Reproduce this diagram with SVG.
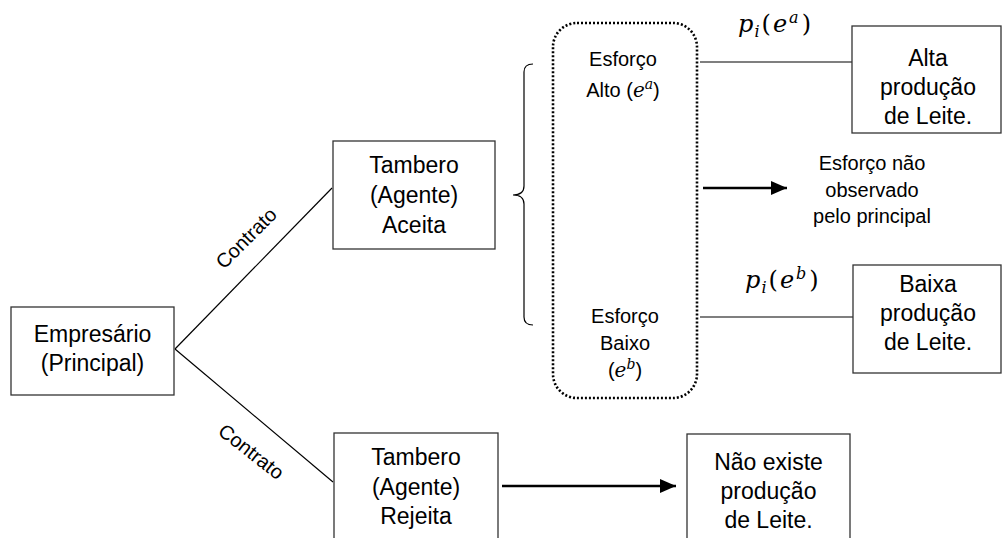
<svg xmlns="http://www.w3.org/2000/svg" width="1004" height="538" viewBox="0 0 1004 538">
<defs>
<style>
.box{fill:#fff;stroke:#333;stroke-width:1.3}
.t{font-family:"Liberation Sans",Arial,sans-serif;font-size:23px;fill:#000;text-anchor:middle}
.s{font-family:"Liberation Sans",Arial,sans-serif;font-size:20px;fill:#000;text-anchor:middle}
.m{font-family:"DejaVu Serif","Liberation Serif",serif;font-size:24px;fill:#000}
.it{font-style:italic}
.ln{stroke:#000;stroke-width:1.2;fill:none}
.ar{stroke:#000;stroke-width:2.6;fill:none}
</style>
<marker id="ah" viewBox="0 0 16 14" refX="16" refY="7" markerWidth="16" markerHeight="14" markerUnits="userSpaceOnUse" orient="auto">
<path d="M0,0 L16,7 L0,14 Z" fill="#000"/>
</marker>
</defs>
<rect width="1004" height="538" fill="#fff"/>
<g id="connectors">
<line class="ln" x1="175" y1="349" x2="332" y2="188"/>
<line class="ln" x1="175" y1="349" x2="333" y2="482"/>
<text class="s" transform="translate(251,243) rotate(-45)">Contrato</text>
<text class="s" transform="translate(247,457) rotate(38)">Contrato</text>
<path class="ln" d="M533,64 Q524,64 524,72 L524,186 Q524,195 513,195 Q524,195 524,204 L524,317 Q524,325 533,325"/>
<line class="ln" x1="700" y1="62" x2="852" y2="62"/>
<line class="ln" x1="700" y1="317" x2="853" y2="317"/>
<line class="ar" x1="703" y1="188" x2="787" y2="188" marker-end="url(#ah)"/>
<line class="ar" x1="502" y1="486" x2="676" y2="486" marker-end="url(#ah)"/>
<text class="m" x="738" y="32"><tspan class="it">p</tspan><tspan class="it" font-size="16" dx="1" dy="5">i</tspan><tspan dx="2" dy="-5">(</tspan><tspan class="it" dx="2">e</tspan><tspan class="it" font-size="16" dx="2" dy="-9">a</tspan><tspan dx="3" dy="9">)</tspan></text>
<text class="m" x="745" y="288"><tspan class="it">p</tspan><tspan class="it" font-size="16" dx="1" dy="5">i</tspan><tspan dx="2" dy="-5">(</tspan><tspan class="it" dx="2">e</tspan><tspan class="it" font-size="16" dx="2" dy="-9">b</tspan><tspan dx="3" dy="9">)</tspan></text>
</g>
<g id="empresario">
<rect class="box" x="11" y="307" width="163" height="88"/>
<text class="t" x="92.5" y="342">Empresário</text>
<text class="t" x="92.5" y="371">(Principal)</text>
</g>
<g id="aceita">
<rect class="box" x="333" y="141" width="162" height="108"/>
<text class="t" x="414" y="173">Tambero</text>
<text class="t" x="414" y="203">(Agente)</text>
<text class="t" x="414" y="233">Aceita</text>
</g>
<g id="rejeita">
<rect class="box" x="334" y="433" width="164" height="110"/>
<text class="t" x="416" y="465">Tambero</text>
<text class="t" x="416" y="495">(Agente)</text>
<text class="t" x="416" y="524">Rejeita</text>
</g>
<g id="esforco">
<rect x="553" y="23" width="144" height="375" rx="24" ry="24" fill="none" stroke="#000" stroke-width="2.6" stroke-dasharray="2 2"/>
<text class="s" x="623" y="66" font-size="21">Esforço</text>
<text class="s" x="623" y="97" font-size="21">Alto (<tspan font-family="DejaVu Serif,serif" font-style="italic">e</tspan><tspan font-family="DejaVu Serif,serif" font-style="italic" font-size="14" dy="-8">a</tspan><tspan dy="8">)</tspan></text>
<text class="s" x="625" y="323" font-size="21">Esforço</text>
<text class="s" x="625" y="350" font-size="21">Baixo</text>
<text class="s" x="625" y="377" font-size="21">(<tspan font-family="DejaVu Serif,serif" font-style="italic">e</tspan><tspan font-family="DejaVu Serif,serif" font-style="italic" font-size="14" dy="-8">b</tspan><tspan dy="8">)</tspan></text>
</g>
<g id="nao-observado">
<text class="s" x="872" y="170">Esforço não</text>
<text class="s" x="872" y="197">observado</text>
<text class="s" x="872" y="223">pelo principal</text>
</g>
<g id="alta">
<rect class="box" x="852" y="26" width="149" height="107"/>
<text class="t" x="928" y="66">Alta</text>
<text class="t" x="928" y="95">produção</text>
<text class="t" x="928" y="124">de Leite.</text>
</g>
<g id="baixa">
<rect class="box" x="853" y="265" width="148" height="108"/>
<text class="t" x="928" y="292">Baixa</text>
<text class="t" x="928" y="321">produção</text>
<text class="t" x="928" y="350">de Leite.</text>
</g>
<g id="nao-existe">
<rect class="box" x="687" y="434" width="163" height="110"/>
<text class="t" x="768.5" y="470">Não existe</text>
<text class="t" x="768.5" y="499">produção</text>
<text class="t" x="768.5" y="528">de Leite.</text>
</g>
</svg>
